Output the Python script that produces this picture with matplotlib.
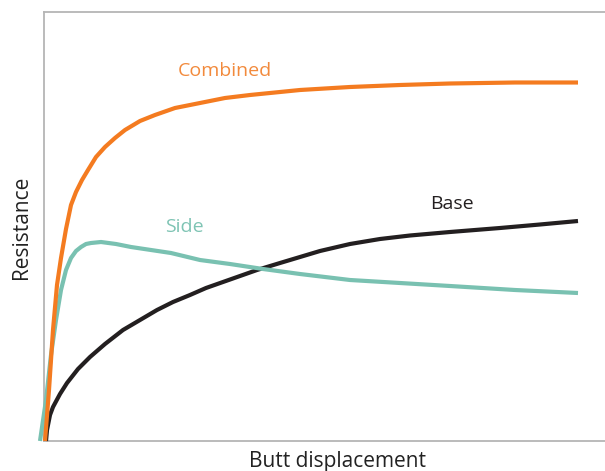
import matplotlib
matplotlib.use("Agg")
import matplotlib.pyplot as plt

# Butt displacement and resistance, relative units (x: 0..561, y: 0..429)
combined_x = [1, 5, 9, 13, 17, 22, 27, 32, 38, 44, 52, 61, 71, 81, 96, 111, 131, 156, 181, 206, 256, 306, 356, 406, 471, 534]
combined_y = [0, 51, 111, 156, 183, 212, 236, 249, 261, 271, 284, 294, 303, 311, 320, 326, 333, 338, 343, 346, 351, 354, 356, 357.5, 358.5, 358.5]

side_x = [-4, 2, 7, 12, 17, 22, 27, 32, 37, 42, 47, 57, 72, 87, 107, 127, 156, 186, 219, 256, 306, 356, 406, 471, 534]
side_y = [0, 41, 86, 121, 151, 171, 183, 190, 194, 197, 198, 199, 197, 194, 191, 188, 181, 177, 172, 167, 161, 158, 155, 151, 148]

base_x = [2, 3, 6, 9, 16, 23, 34, 46, 61, 79, 96, 113, 129, 146, 162, 179, 196, 213, 236, 256, 276, 306, 336, 366, 406, 456, 496, 534]
base_y = [0, 11, 26, 34, 47, 58, 72, 84, 97, 111, 121, 131, 139, 146, 153, 159, 165, 171, 178, 184, 190, 197, 202, 205.5, 209, 213, 216.5, 220]

labels = ["Combined", "Side", "Base"]
label_pos = [(181, 370), (140, 214), (408, 237)]
x_label = "Butt displacement"
y_label = "Resistance"

ORANGE = "#F47B20"
TEAL = "#79C1B1"
BLACK = "#231F20"

W, H = 605, 471
fig = plt.figure(figsize=(W / 100, H / 100), dpi=100)
ax = fig.add_axes([44 / W, (H - 441) / H, (W - 44) / W, (441 - 12) / H])

lw = 3.0
ax.plot(base_x, base_y, color=BLACK, lw=lw, clip_on=False, solid_capstyle="butt", solid_joinstyle="round", zorder=3)
ax.plot(side_x, side_y, color=TEAL, lw=lw, clip_on=False, solid_capstyle="butt", solid_joinstyle="round", zorder=4)
ax.plot(combined_x, combined_y, color=ORANGE, lw=lw, clip_on=False, solid_capstyle="butt", solid_joinstyle="round", zorder=5)

ax.set_xlim(0, 561)
ax.set_ylim(0, 429)
ax.set_xticks([])
ax.set_yticks([])
for s in ["left", "top", "bottom"]:
    ax.spines[s].set_color("#B5B5B5")
    ax.spines[s].set_linewidth(1.3)
ax.spines["right"].set_visible(False)

font = "Open Sans"
colors = ["#F28A3C", "#7FC4B4", BLACK]
for lab, (lx, ly), c in zip(labels, label_pos, colors):
    ax.text(lx, ly, lab, color=c, fontsize=14, family=font, ha="center", va="center")

fig.text(337 / W, 1 - 461 / H, x_label, fontsize=15, family=font, color="#222222", ha="center", va="center")
fig.text(22 / W, 1 - 227 / H, y_label, fontsize=15, family=font, color="#222222", ha="center", va="center", rotation=90)

fig.savefig("out.png", dpi=100)
